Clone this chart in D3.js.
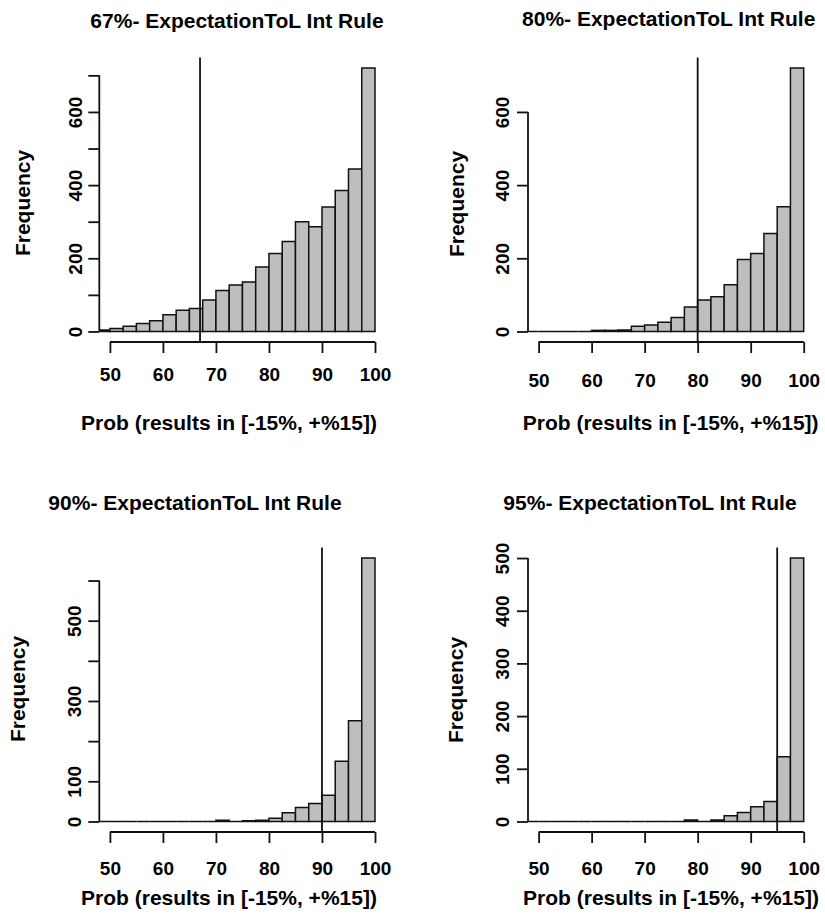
<!DOCTYPE html>
<html>
<head>
<meta charset="utf-8">
<script src="https://cdn.jsdelivr.net/npm/d3@7"></script>
<style>
    body { margin: 0; background: #fff; }
    text { font-family: "Liberation Sans", Arial, Helvetica, sans-serif; font-weight: bold; fill: #000; }
</style>
</head>
<body>
<svg id="chart" width="825" height="915"></svg>
<script>
// histogram bin edges (width 2.5) and counts
var binEdges = [47.5, 50, 52.5, 55, 57.5, 60, 62.5, 65, 67.5, 70, 72.5,
                75, 77.5, 80, 82.5, 85, 87.5, 90, 92.5, 95, 97.5, 100];
var counts67 = [4, 8, 14, 22, 29, 46, 58, 63, 86, 112, 127, 135, 176, 213, 246, 300, 286, 340, 385, 444, 720];
var counts80 = [0, 0, 0, 0, 0, 3, 3, 4, 14, 18, 25, 38, 67, 86, 95, 128, 197, 213, 268, 341, 720];
var counts90 = [0, 0, 0, 0, 0, 0, 0, 0, 0, 3, 0, 2, 3, 8, 22, 35, 45, 65, 150, 251, 656];
var counts95 = [0, 0, 0, 0, 0, 0, 0, 0, 0, 0, 0, 0, 3, 0, 3, 11, 17, 28, 38, 123, 500];

var ruleValues = [67, 80, 90, 95];
var titles = ["67%- ExpectationToL Int Rule", "80%- ExpectationToL Int Rule",
              "90%- ExpectationToL Int Rule", "95%- ExpectationToL Int Rule"];
var xTicks = [50, 60, 70, 80, 90, 100];
var yTicks67 = [0, 100, 200, 300, 400, 500, 600, 700];
var yLabels67 = [0, 200, 400, 600];
var yTicks80 = [0, 200, 400, 600];
var yLabels80 = [0, 200, 400, 600];
var yTicks90 = [0, 100, 200, 300, 400, 500, 600];
var yLabels90 = [0, 100, 300, 500];
var yTicks95 = [0, 100, 200, 300, 400, 500];
var yLabels95 = [0, 100, 200, 300, 400, 500];
var xTitle = "Prob (results in [-15%, +%15])";
var yTitle = "Frequency";

function show() {
    'use strict';

    var svg = d3.select("#chart");
    var width = 286.3, height = 284.5;

    var series = [
        { counts: counts67, rule: ruleValues[0], title: titles[0], ticks: yTicks67, labels: yLabels67 },
        { counts: counts80, rule: ruleValues[1], title: titles[1], ticks: yTicks80, labels: yLabels80 },
        { counts: counts90, rule: ruleValues[2], title: titles[2], ticks: yTicks90, labels: yLabels90 },
        { counts: counts95, rule: ruleValues[3], title: titles[3], ticks: yTicks95, labels: yLabels95 }
    ];

    // where each panel sits (the source is a pasted-together figure, so offsets differ a bit)
    var layout = [
        { left: 99.3, top: 57.5, titleX: 237, titleY: 20, freqX: 25, freqY: 203, yLabX: 75, xLabY: 374.3, xTitleX: 229, xTitleY: 424 },
        { left: 528, top: 57.5, titleX: 668.7, titleY: 18.8, freqX: 458.3, freqY: 204, yLabX: 502, xLabY: 380.7, xTitleX: 670.7, xTitleY: 424 },
        { left: 99.3, top: 547.5, titleX: 195, titleY: 502.5, freqX: 20, freqY: 689, yLabX: 74, xLabY: 868.3, xTitleX: 229, xTitleY: 899 },
        { left: 528, top: 547.5, titleX: 650, titleY: 502.5, freqX: 457.8, freqY: 690, yLabX: 502, xLabY: 868.3, xTitleX: 671, xTitleY: 899 }
    ];

    series.forEach(function (s, i) {
        var L = layout[i];
        var bins = s.counts.map(function (c, j) {
            return { x0: binEdges[j], x1: binEdges[j + 1], count: c };
        });

        // R style: xlim c(50,100) plus 4% padding, y padded 4% both ends
        var x = d3.scaleLinear().domain([48, 102]).range([0, width]);
        var ymax = d3.max(s.counts);
        var y = d3.scaleLinear().domain([-0.04 * ymax, 1.04 * ymax]).range([height, 0]);

        var g = svg.append("g")
            .attr("transform", "translate(" + L.left + "," + L.top + ")");

        g.append("clipPath").attr("id", "clip" + i)
            .append("rect")
            .attr("x", 0).attr("y", 0)
            .attr("width", width).attr("height", height);

        g.append("g").attr("clip-path", "url(#clip" + i + ")")
            .selectAll("path").data(bins).enter()
            .append("path")
            .attr("d", function (d) {
                return "M" + x(d.x0) + "," + y(0) + "V" + y(d.count) +
                       "H" + x(d.x1) + "V" + y(0) + "Z";
            })
            .attr("fill", "#bebebe")
            .attr("stroke", "#111")
            .attr("stroke-width", 1.5);

        // x axis
        var xAxis = g.append("g")
            .attr("transform", "translate(0," + height + ")")
            .call(d3.axisBottom(x).tickValues(xTicks).tickSize(11).tickSizeOuter(0));
        xAxis.select(".domain").remove();
        xAxis.attr("font-size", null).attr("font-family", null);
        xAxis.selectAll(".tick line").attr("stroke", "#111").attr("stroke-width", 1.8);
        xAxis.selectAll(".tick text")
            .attr("y", L.xLabY - L.top - height)
            .attr("dy", "0.35em")
            .style("font-size", "19px");
        xAxis.append("line")
            .attr("x1", x(xTicks[0])).attr("x2", x(xTicks[xTicks.length - 1]))
            .attr("stroke", "#111").attr("stroke-width", 1.8);

        // y axis
        var yAxis = g.append("g")
            .call(d3.axisLeft(y).tickValues(s.ticks).tickSize(11).tickSizeOuter(0)
                .tickFormat(function (d) { return s.labels.indexOf(d) >= 0 ? d : ""; }));
        yAxis.select(".domain").remove();
        yAxis.attr("font-size", null).attr("font-family", null);
        yAxis.selectAll(".tick line").attr("stroke", "#111").attr("stroke-width", 1.8);
        yAxis.selectAll(".tick text")
            .attr("x", 0)
            .attr("dy", "0.35em")
            .attr("text-anchor", "middle")
            .attr("transform", "translate(" + (L.yLabX - L.left) + ",0) rotate(-90)")
            .style("font-size", "19px");
        yAxis.append("line")
            .attr("y1", y(0)).attr("y2", y(s.ticks[s.ticks.length - 1]))
            .attr("stroke", "#111").attr("stroke-width", 1.8);

        // the rule's cut-off line
        g.append("line")
            .attr("x1", x(s.rule)).attr("x2", x(s.rule))
            .attr("y1", 0).attr("y2", height + 1)
            .attr("stroke", "#111").attr("stroke-width", 1.8);

        // texts
        svg.append("text")
            .attr("x", L.titleX).attr("y", L.titleY)
            .attr("dy", "0.36em")
            .attr("text-anchor", "middle")
            .style("font-size", "21px")
            .text(s.title);

        svg.append("text")
            .attr("transform", "translate(" + L.freqX + "," + L.freqY + ") rotate(-90)")
            .attr("dy", "0.26em")
            .attr("text-anchor", "middle")
            .style("font-size", "21px")
            .text(yTitle);

        svg.append("text")
            .attr("x", L.xTitleX).attr("y", L.xTitleY)
            .attr("dy", "0.3em")
            .attr("text-anchor", "middle")
            .style("font-size", "21px")
            .text(xTitle);
    });
}

show();
</script>
</body>
</html>
